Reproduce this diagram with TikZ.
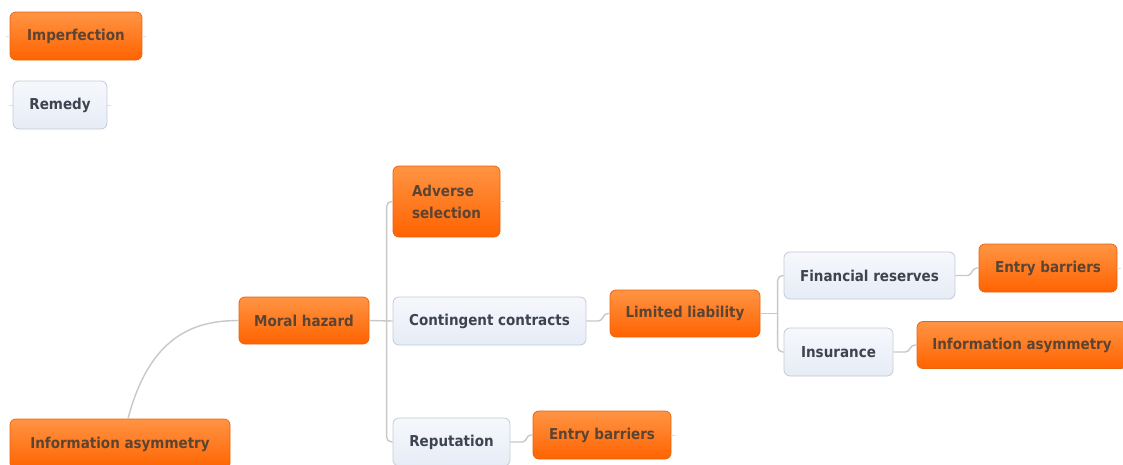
\documentclass[tikz,border=0pt]{standalone}
\usepackage{fontspec}
\setmainfont{DejaVu Sans Condensed}[BoldFont={DejaVu Sans Condensed Bold}]
\usetikzlibrary{calc}
\definecolor{orgtop}{HTML}{FF9444}
\definecolor{orgbot}{HTML}{FF6300}
\definecolor{orgline}{HTML}{E8650F}
\definecolor{orgtext}{HTML}{5C4433}
\definecolor{whtop}{HTML}{F6F8FC}
\definecolor{whbot}{HTML}{E6ECF6}
\definecolor{whline}{HTML}{C5CBD6}
\definecolor{whtext}{HTML}{3E4350}
\definecolor{connc}{HTML}{C8C8C8}
\tikzset{
  base/.style={rounded corners=6pt, line width=0.8pt, inner sep=0pt,
    font=\fontsize{15}{22}\selectfont\bfseries},
  orangebox/.style={base, top color=orgtop, bottom color=orgbot, draw=orgline, text=orgtext},
  whitebox/.style={base, top color=whtop, bottom color=whbot, draw=whline, text=whtext},
  conn/.style={draw=connc, line width=1.4pt},
  stub/.style={draw=connc!60, line width=1pt},
  sz/.style 2 args={minimum width=#1, minimum height=#2}
}
\begin{document}
\begin{tikzpicture}[x=1pt,y=-1pt]
\useasboundingbox (0,0) rectangle (1123,464);
\fill[white] (0,0) rectangle (1123,464);

\node[orangebox, sz={132pt}{48pt}] (imp) at (76,36) {Imperfection};
\node[whitebox, sz={94pt}{48pt}] (rem) at (60,105) {Remedy};

\node[orangebox, sz={220pt}{50pt}] (ia1) at (120,444) {Information asymmetry};
\node[orangebox, sz={130pt}{47pt}] (moral) at (304,320.5) {Moral hazard};
\node[orangebox, sz={107pt}{71pt}, align=left] (adv) at (446.5,201.5) {Adverse\\selection};
\node[whitebox, sz={193pt}{48pt}] (cont) at (489.5,321) {Contingent contracts};
\node[whitebox, sz={117pt}{48pt}] (rep) at (451.5,442) {Reputation};
\node[orangebox, sz={138pt}{48pt}] (eb2) at (602,435) {Entry barriers};
\node[orangebox, sz={150pt}{47pt}] (lim) at (685,313.5) {Limited liability};
\node[whitebox, sz={171pt}{47pt}] (fin) at (869.5,275.5) {Financial reserves};
\node[whitebox, sz={109pt}{48pt}] (ins) at (838.5,352) {Insurance};
\node[orangebox, sz={138pt}{48pt}] (eb1) at (1048,268) {Entry barriers};
\node[orangebox, sz={210pt}{47pt}] (ia2) at (1022,345) {Information asymmetry};

% main curve
\draw[conn] ([xshift=8pt]ia1.north) .. controls (150,335) and (195,320.5) .. (moral.west);

% trunk from moral hazard
\draw[conn] (moral.east) -- (cont.west);
\draw[conn, rounded corners=5pt] (adv.west) -- ++(-6,0) |- (rep.west);

% contingent -> limited liability
\draw[conn] (cont.east) -- ++(12,0) to[out=0,in=180] ($(lim.west)+(-2,0)$) -- (lim.west);

% limited liability -> financial reserves / insurance
\draw[conn] (lim.east) -- ($(lim.east -| fin.west)+(-6,0)$);
\draw[conn, rounded corners=5pt] (fin.west) -- ++(-6,0) |- (ins.west);

% leaves
\draw[conn] (fin.east) -- ++(12,0) to[out=0,in=180] ($(eb1.west)+(-2,0)$) -- (eb1.west);
\draw[conn] (ins.east) -- ++(12,0) to[out=0,in=180] ($(ia2.west)+(-2,0)$) -- (ia2.west);
\draw[conn] (rep.east) -- ++(12,0) to[out=0,in=180] ($(eb2.west)+(-2,0)$) -- (eb2.west);

% faint stubs
\draw[stub] (imp.west) -- ++(-4,0);
\draw[stub] (imp.east) -- ++(4,0);
\draw[stub] (rem.west) -- ++(-4,0);
\draw[stub] (rem.east) -- ++(4,0);
\draw[stub] (adv.east) -- ++(4,0);
\draw[stub] (eb1.east) -- ++(4,0);
\draw[stub] (eb2.east) -- ++(4,0);
\end{tikzpicture}
\end{document}
